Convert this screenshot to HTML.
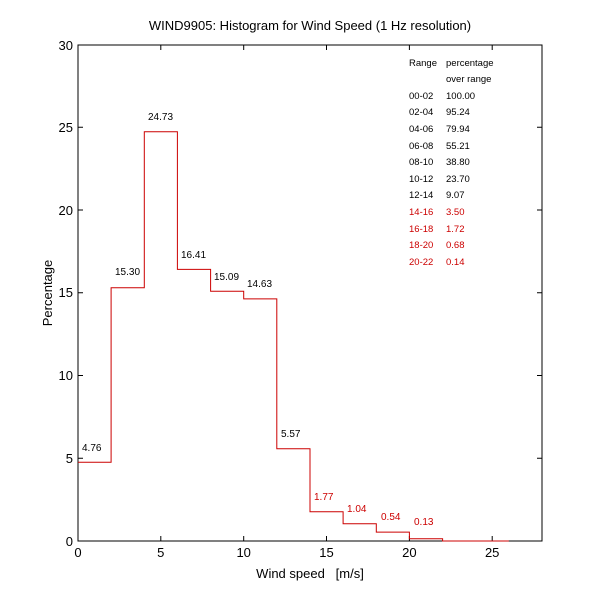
<!DOCTYPE html>
<html><head><style>body{margin:0;background:#fff}svg{display:block}</style></head><body>
<svg width="600" height="610" xmlns="http://www.w3.org/2000/svg" font-family="Liberation Sans, Arial, sans-serif">
<rect width="600" height="610" fill="#fff"/>
<text x="310" y="30" font-size="13" text-anchor="middle">WIND9905: Histogram for Wind Speed (1 Hz resolution)</text>
<rect x="78" y="45" width="464" height="496" fill="none" stroke="#000" stroke-width="1"/>
<g stroke="#000" stroke-width="1">
<path d="M78 541v-5M160.8 541v-5M243.7 541v-5M326.5 541v-5M409.4 541v-5M492.2 541v-5"/>
<path d="M78 45v5M160.8 45v5M243.7 45v5M326.5 45v5M409.4 45v5M492.2 45v5"/>
<path d="M78 458.3h5M78 375.5h5M78 292.8h5M78 210h5M78 127.3h5M78 45h5"/>
<path d="M542 458.3h-5M542 375.5h-5M542 292.8h-5M542 210h-5M542 127.3h-5"/>
</g>
<g font-size="13" text-anchor="middle">
<text x="78" y="557">0</text><text x="160.8" y="557">5</text><text x="243.7" y="557">10</text><text x="326.5" y="557">15</text><text x="409.4" y="557">20</text><text x="492.2" y="557">25</text>
</g>
<g font-size="13" text-anchor="end">
<text x="73" y="546">0</text><text x="73" y="463">5</text><text x="73" y="380">10</text><text x="73" y="297">15</text><text x="73" y="215">20</text><text x="73" y="132">25</text><text x="73" y="50">30</text>
</g>
<text x="310" y="578" font-size="13" text-anchor="middle" style="white-space:pre">Wind speed   [m/s]</text>
<text transform="translate(52,293) rotate(-90)" font-size="13" text-anchor="middle">Percentage</text>
<path fill="none" stroke="#cc0000" stroke-width="1" d="M78 462.2H111.1V287.8H144.3V131.7H177.4V269.4H210.6V291.3H243.7V298.9H276.8V448.8H310V511.7H343.1V523.8H376.3V532.1H409.4V538.8H442.6V541H508.8"/>
<g font-size="10">
<text x="82" y="451">4.76</text>
<text x="115" y="275">15.30</text>
<text x="148" y="120">24.73</text>
<text x="181" y="258">16.41</text>
<text x="214" y="280">15.09</text>
<text x="247" y="287">14.63</text>
<text x="281" y="437">5.57</text>
<g fill="#cc0000">
<text x="314" y="500">1.77</text>
<text x="347" y="512">1.04</text>
<text x="381" y="520">0.54</text>
<text x="414" y="525">0.13</text>
</g>
</g>
<g font-size="9.5">
<text x="409" y="66">Range</text><text x="446" y="66">percentage</text>
<text x="446" y="82">over range</text>
<text x="409" y="99">00-02</text><text x="446" y="99">100.00</text>
<text x="409" y="115">02-04</text><text x="446" y="115">95.24</text>
<text x="409" y="132">04-06</text><text x="446" y="132">79.94</text>
<text x="409" y="149">06-08</text><text x="446" y="149">55.21</text>
<text x="409" y="165">08-10</text><text x="446" y="165">38.80</text>
<text x="409" y="182">10-12</text><text x="446" y="182">23.70</text>
<text x="409" y="198">12-14</text><text x="446" y="198">9.07</text>
<g fill="#cc0000">
<text x="409" y="215">14-16</text><text x="446" y="215">3.50</text>
<text x="409" y="232">16-18</text><text x="446" y="232">1.72</text>
<text x="409" y="248">18-20</text><text x="446" y="248">0.68</text>
<text x="409" y="265">20-22</text><text x="446" y="265">0.14</text>
</g>
</g>
</svg>
</body></html>
